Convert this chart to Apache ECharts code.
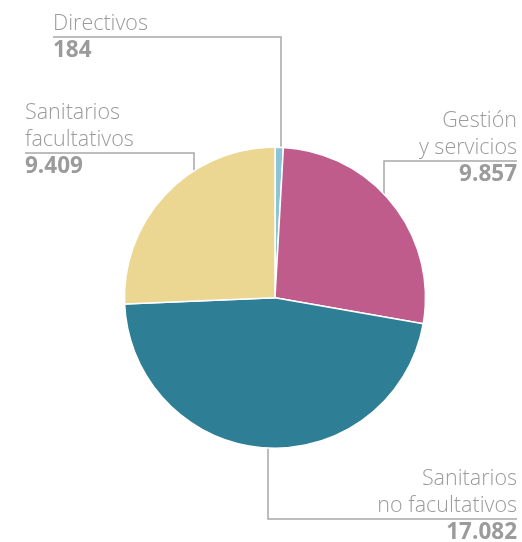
<!DOCTYPE html>
<html>
<head>
<meta charset="utf-8">
<script src="https://cdn.jsdelivr.net/npm/echarts@6/dist/echarts.min.js"></script>
<style>
  html, body { margin: 0; padding: 0; background: #fff; }
  #chart { width: 522px; height: 542px; }
</style>
</head>
<body>
<div id="chart"></div>
<script>
// datos
var categorias = ['Directivos', 'Gestión\ny servicios', 'Sanitarios\nno facultativos', 'Sanitarios\nfacultativos'];
var valores = [184, 9857, 17082, 9409];
var colores = ['#8bc3d7', '#c05c8c', '#2e7f96', '#ebd692'];

// posicion de las etiquetas (x de la linea vertical, y de la horizontal, fin de la linea)
var guias = [
  { lx: 281, ly: 37, ex: 53, align: 'left' },
  { lx: 384, ly: 161, ex: 517, align: 'right' },
  { lx: 268, ly: 519, ex: 517, align: 'right' },
  { lx: 194, ly: 153, ex: 25, align: 'left' }
];

var cx = 275, cy = 297.7, radio = 150.5;

function miles(v) {
  return String(v).replace(/\B(?=(\d{3})+(?!\d))/g, '.');
}

var chart = echarts.init(document.getElementById('chart'));
var option = {
  animation: false,
  series: [{
    type: 'pie',
    center: [cx, cy],
    radius: radio,
    startAngle: 90,
    clockwise: true,
    minAngle: 3.2,
    itemStyle: { borderColor: '#fff', borderWidth: 1.5 },
    data: categorias.map(function (c, i) {
      return { name: c, value: valores[i], itemStyle: { color: colores[i] } };
    }),
    label: {
      show: true,
      position: 'outside',
      overflow: 'none',
      formatter: function (p) {
        var partes = p.name.split('\n').map(function (s) { return '{n|' + s + '}'; });
        return partes.join('\n') + '\n{v|' + miles(p.value) + '}';
      },
      rich: {
        n: { fontFamily: 'Open Sans', fontWeight: 300, fontSize: 21.5, color: '#9b9b9b', lineHeight: 27 },
        v: { fontFamily: 'Open Sans', fontWeight: 'bold', fontSize: 22.5, color: '#9b9b9b', lineHeight: 27 }
      }
    },
    labelLine: {
      show: true,
      smooth: false,
      lineStyle: { color: '#a8a8a8', width: 1.5 }
    },
    labelLayout: function (params) {
      var g = guias[params.dataIndex];
      var dx = g.lx - cx;
      var dy = Math.sqrt(radio * radio - dx * dx);
      var sy = g.ly < cy ? cy - dy : cy + dy;
      return {
        x: g.ex,
        y: g.ly + 27,
        align: g.align,
        verticalAlign: 'bottom',
        labelLinePoints: [[g.lx, sy], [g.lx, g.ly], [g.ex, g.ly]]
      };
    }
  }]
};
chart.setOption(option);
</script>
</body>
</html>
